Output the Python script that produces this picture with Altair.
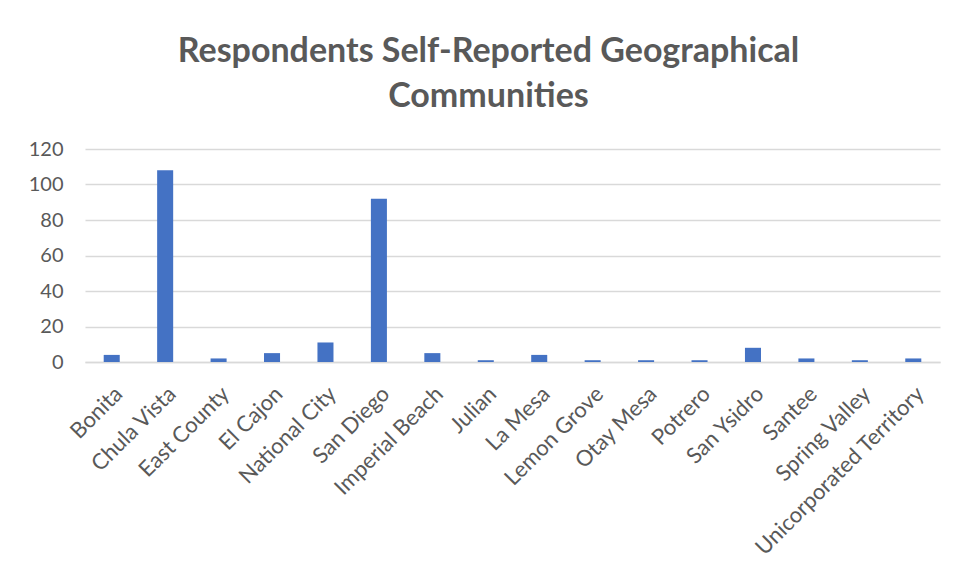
import altair as alt
import pandas as pd

communities = ["Bonita", "Chula Vista", "East County", "El Cajon", "National City",
               "San Diego", "Imperial Beach", "Julian", "La Mesa", "Lemon Grove",
               "Otay Mesa", "Potrero", "San Ysidro", "Santee", "Spring Valley",
               "Unicorporated Territory"]
counts = [4, 108, 2, 5, 11, 92, 5, 1, 4, 1, 1, 1, 8, 2, 1, 2]
y_ticks = [0, 20, 40, 60, 80, 100, 120]

df = pd.DataFrame({"community": communities, "count": counts})

FONT = "Lato"
TXT = "#595959"

chart = alt.Chart(df).mark_bar(color="#4472C4").encode(
    x=alt.X("community:N", sort=communities, title=None,
            scale=alt.Scale(paddingInner=0.7, paddingOuter=0.35),
            axis=alt.Axis(labelAngle=-45, labelAlign="right", labelBaseline="top",
                          labelPadding=21, labelOffset=0, ticks=False,
                          domain=True, domainColor="#d9d9d9", domainWidth=1.5,
                          labelFont=FONT, labelFontSize=22, labelColor=TXT,
                          labelOverlap=False, labelLimit=0)),
    y=alt.Y("count:Q", title=None,
            scale=alt.Scale(domain=[0, 120], nice=False),
            axis=alt.Axis(values=y_ticks, ticks=False, domain=False,
                          gridColor="#d9d9d9", gridWidth=1.5,
                          labelPadding=22, labelFont=FONT, labelFontSize=20,
                          labelColor=TXT)),
).properties(
    width=855,
    height=213,
    title=alt.TitleParams(
        text=["Respondents Self-Reported Geographical", "Communities"],
        font=FONT, fontSize=34, fontWeight="bold", color=TXT,
        anchor="middle", dx=-24, lineHeight=45, offset=25,
    ),
    autosize=alt.AutoSizeParams(type="none"),
    padding={"left": 77, "top": 141, "right": 8, "bottom": 200},
).configure_view(stroke=None)

chart.save("out.html", embed_options={"renderer": "svg", "actions": False})
